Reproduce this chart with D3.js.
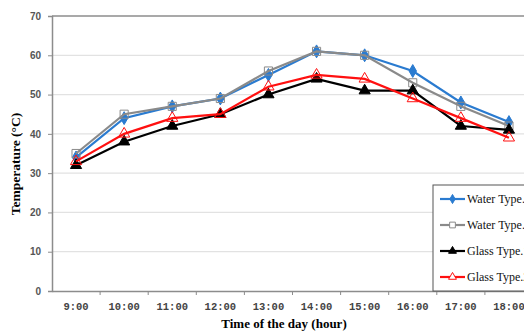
<!DOCTYPE html>
<html>
<head>
<meta charset="utf-8">
<script src="https://cdn.jsdelivr.net/npm/d3@7"></script>
<style>
  body { margin: 0; background: #fff; }
  svg { display: block; }
</style>
</head>
<body>
<svg width="524" height="331"></svg>
<script>
// chart data
let hours = ["9:00", "10:00", "11:00", "12:00", "13:00", "14:00", "15:00", "16:00", "17:00", "18:00"];
let waterType1 = [34, 44, 47, 49, 55, 61, 60, 56, 48, 43];
let waterType2 = [35, 45, 47, 49, 56, 61, 60, 53, 47, 42];
let glassType1 = [32, 38, 42, 45, 50, 54, 51, 51, 42, 41];
let glassType2 = [33, 40, 44, 45, 52, 55, 54, 49, 44, 39];
let seriesNames = ["Water Type.1", "Water Type.2", "Glass Type.1", "Glass Type.2"];
let yTicks = [0, 10, 20, 30, 40, 50, 60, 70];

var svg = d3.select('svg');
var mLeft = 52, mTop = 16, plotW = 481, plotH = 275;

let x = d3.scaleBand().domain(hours).range([mLeft, mLeft + plotW]);
let y = d3.scaleLinear().domain([0, 70]).range([mTop + plotH, mTop]);

let series = [
    { name: seriesNames[0], values: waterType1, color: '#2a7bd0', marker: 'diamond', fill: true },
    { name: seriesNames[1], values: waterType2, color: '#8a8a8a', marker: 'square', fill: false },
    { name: seriesNames[2], values: glassType1, color: '#000000', marker: 'triangle', fill: true },
    { name: seriesNames[3], values: glassType2, color: '#ff1010', marker: 'triangle', fill: false }
];

/* ----------- grid ----------- */
svg.append('g').selectAll('line').data(yTicks.slice(1, -1)).enter().append('line')
    .attr('x1', mLeft).attr('x2', mLeft + plotW)
    .attr('y1', d => y(d)).attr('y2', d => y(d))
    .attr('stroke', '#e2e2e2').attr('stroke-width', 1.2);

// top border
svg.append('line').attr('x1', mLeft).attr('x2', mLeft + plotW)
    .attr('y1', y(70)).attr('y2', y(70))
    .attr('stroke', '#8c8c8c').attr('stroke-width', 1.5);

/* ----------- axes ----------- */
let yAxis = svg.append('g').attr('transform', `translate(${mLeft},0)`)
    .call(d3.axisLeft(y).tickValues(yTicks).tickSize(4).tickPadding(7));
yAxis.select('.domain').attr('stroke', '#8c8c8c').attr('stroke-width', 1.5);
yAxis.selectAll('.tick line').attr('stroke', '#8c8c8c');
yAxis.selectAll('text').attr('font-family', 'Liberation Sans, Arial, sans-serif')
    .attr('font-size', 10).attr('font-weight', 'bold').attr('fill', '#555');

let xAxis = svg.append('g').attr('transform', `translate(0,${mTop + plotH})`)
    .call(d3.axisBottom(x).tickSize(0).tickPadding(12));
xAxis.select('.domain').attr('stroke', '#8c8c8c').attr('stroke-width', 1.5);
xAxis.selectAll('text').attr('font-family', 'Liberation Mono, Courier New, monospace')
    .attr('font-size', 10.5).attr('font-weight', 'bold').attr('fill', '#444');

// x tick marks between categories
svg.append('g').selectAll('line').data(hours.slice(1)).enter().append('line')
    .attr('x1', d => x(d)).attr('x2', d => x(d))
    .attr('y1', mTop + plotH).attr('y2', mTop + plotH + 4)
    .attr('stroke', '#8c8c8c');

/* ----------- lines and markers ----------- */
let line = d3.line().x((d, i) => x(hours[i]) + x.bandwidth() / 2).y(d => y(d));

function markerPath(type, s) {
    if (type == 'diamond') return d3.symbol(d3.symbolDiamond, s * 8)();
    if (type == 'square') return d3.symbol(d3.symbolSquare, s * 11)();
    return d3.symbol(d3.symbolTriangle, s * 9)();
}

series.forEach(s => {
    let g = svg.append('g');
    g.append('path').datum(s.values)
        .attr('fill', 'none').attr('stroke', s.color).attr('stroke-width', 2.2)
        .attr('d', line);
    g.selectAll('path.mark').data(s.values).enter().append('path')
        .attr('class', 'mark')
        .attr('transform', (d, i) => `translate(${x(hours[i]) + x.bandwidth() / 2},${y(d)})`)
        .attr('d', markerPath(s.marker, 6))
        .attr('fill', s.fill ? s.color : 'none')
        .attr('stroke', s.color).attr('stroke-width', 1);
});

/* ----------- legend ----------- */
let legend = svg.append('g');
legend.append('rect').attr('x', 433).attr('y', 185).attr('width', 100).attr('height', 106)
    .attr('fill', '#fff').attr('stroke', '#555').attr('stroke-width', 1);

series.forEach((s, i) => {
    let ly = 199 + i * 26;
    legend.append('line').attr('x1', 440).attr('x2', 465).attr('y1', ly).attr('y2', ly)
        .attr('stroke', s.color).attr('stroke-width', 2.2);
    legend.append('path').attr('transform', `translate(452.5,${ly})`)
        .attr('d', markerPath(s.marker, 3))
        .attr('fill', s.fill ? s.color : '#fff')
        .attr('stroke', s.color).attr('stroke-width', 1);
    legend.append('text').attr('x', 467).attr('y', ly + 4)
        .attr('font-family', 'Liberation Serif, Times New Roman, serif').attr('font-size', 12)
        .attr('fill', '#111').text(s.name);
});

/* ----------- titles ----------- */
svg.append('text').attr('x', 284).attr('y', 328).attr('text-anchor', 'middle')
    .attr('font-family', 'Liberation Serif, Times New Roman, serif').attr('font-size', 13)
    .attr('font-weight', 'bold').text('Time of the day (hour)');

svg.append('text').attr('transform', `translate(20,164) rotate(-90)`)
    .attr('text-anchor', 'middle')
    .attr('font-family', 'Liberation Serif, Times New Roman, serif').attr('font-size', 13.5)
    .attr('font-weight', 'bold').text('Temperature (°C)');
</script>
</body>
</html>
